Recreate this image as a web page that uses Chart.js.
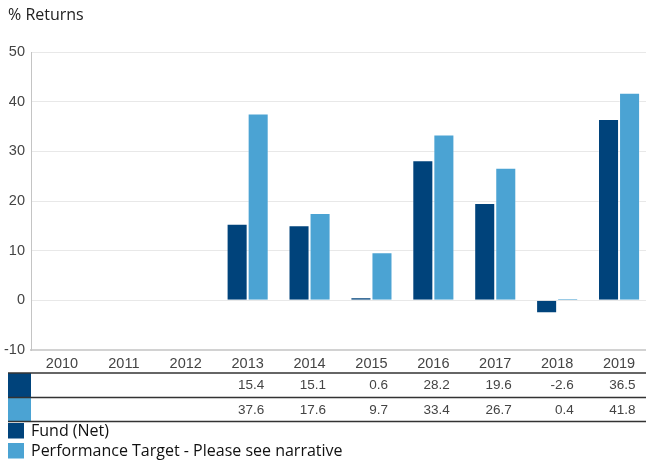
<!DOCTYPE html>
<html>
<head>
<meta charset="utf-8">
<script src="https://cdn.jsdelivr.net/npm/chart.js@4.4.1/dist/chart.umd.min.js"></script>
<style>
  html, body { margin: 0; padding: 0; background: #fff; overflow: hidden; }
  .wrap { position: relative; width: 650px; height: 463px; }
</style>
</head>
<body>
<div class="wrap"><canvas id="returns-chart"></canvas></div>
<script>
const years = ["2010", "2011", "2012", "2013", "2014", "2015", "2016", "2017", "2018", "2019"];
const fundNet = [null, null, null, 15.4, 15.1, 0.6, 28.2, 19.6, -2.6, 36.5];
const perfTarget = [null, null, null, 37.6, 17.6, 9.7, 33.4, 26.7, 0.4, 41.8];
const yTicks = [-10, 0, 10, 20, 30, 40, 50];

const DARK = "#00437b";
const LIGHT = "#4ba3d3";
const TICK_FONT = "Liberation Sans, Arial, sans-serif";
const TEXT_FONT = "'Open Sans', sans-serif";

// title, data table under the x axis and the legend
const tablePlugin = {
  id: "tableLegend",
  afterDraw(chart) {
    const c = chart.ctx;
    const x = chart.scales.x;
    const W = chart.width;

    c.save();
    c.fillStyle = "#222";
    c.font = "16px " + TEXT_FONT;
    c.textAlign = "left";
    c.textBaseline = "middle";
    c.fillText("% Returns", 8, 15);

    let rows = [
      { data: fundNet, color: DARK, top: 373 },
      { data: perfTarget, color: LIGHT, top: 397.5 }
    ];
    let rowH = 24;

    rows.forEach(r => {
      c.fillStyle = r.color;
      c.fillRect(8, r.top, 23, rowH);
      c.fillStyle = "#444";
      c.font = "13.5px " + TICK_FONT;
      c.textAlign = "right";
      r.data.forEach((v, i) => {
        if (v === null) return;
        c.fillText(v.toFixed(1), x.getPixelForValue(i) + 16.5, r.top + rowH / 2 + 0.5);
      });
    });

    c.strokeStyle = "#333";
    c.lineWidth = 1.3;
    [373, 397.5, 421.5].forEach(y => {
      c.beginPath();
      c.moveTo(8, y);
      c.lineTo(W, y);
      c.stroke();
    });

    let legend = [
      { label: "Fund (Net)", color: DARK, y: 423 },
      { label: "Performance Target - Please see narrative", color: LIGHT, y: 443 }
    ];
    c.font = "16px " + TEXT_FONT;
    c.textAlign = "left";
    legend.forEach(l => {
      c.fillStyle = l.color;
      c.fillRect(8, l.y, 16, 15.5);
      c.fillStyle = "#111";
      c.fillText(l.label, 31, l.y + 8.5);
    });
    c.restore();
  }
};

var ctx = document.getElementById("returns-chart").getContext("2d");
var chart = new Chart(ctx, {
  type: "bar",
  data: {
    labels: years,
    datasets: [{
      label: "Fund (Net)",
      data: fundNet,
      backgroundColor: DARK,
      borderColor: "rgba(255, 255, 255, .35)",
      borderWidth: 1
    }, {
      label: "Performance Target - Please see narrative",
      data: perfTarget,
      backgroundColor: LIGHT,
      borderColor: "rgba(255, 255, 255, .35)",
      borderWidth: 1
    }]
  },
  options: {
    responsive: true,
    maintainAspectRatio: false,
    animation: false,
    categoryPercentage: 0.68,
    barPercentage: 1,
    layout: { padding: { top: 52, bottom: 90, left: 0, right: 0 } },
    plugins: {
      legend: { display: false },
      title: { display: false },
      tooltip: { enabled: false }
    },
    scales: {
      x: {
        grid: { display: false, drawTicks: false },
        border: { color: "#d2d2d2", width: 2 },
        ticks: {
          color: "#444",
          font: { family: TICK_FONT, size: 14.5 },
          padding: 5,
          maxRotation: 0
        },
        afterFit(scale) { scale.height = 23; }
      },
      y: {
        min: yTicks[0],
        max: yTicks[yTicks.length - 1],
        afterBuildTicks(scale) { scale.ticks = yTicks.map(v => ({ value: v })); },
        grid: { color: "#e8e8e8", drawTicks: false },
        border: { color: "#c4c4c4", width: 1 },
        ticks: {
          color: "#444",
          font: { family: TICK_FONT, size: 14.5 },
          padding: 6
        },
        afterFit(scale) { scale.width = 31; }
      }
    }
  },
  plugins: [tablePlugin]
});
</script>
</body>
</html>
